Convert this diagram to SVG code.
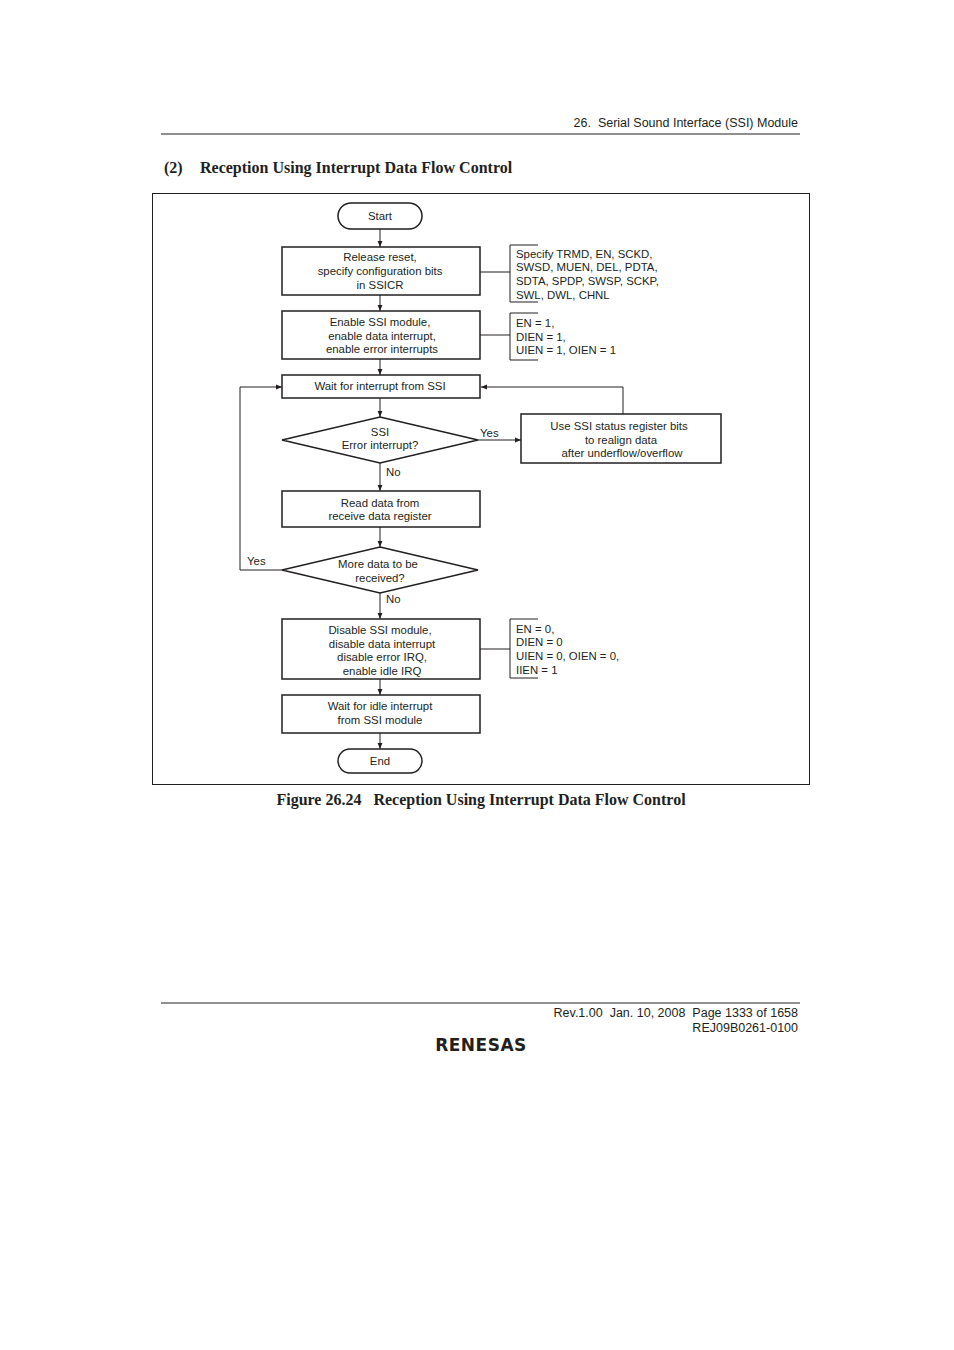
<svg xmlns="http://www.w3.org/2000/svg" width="954" height="1350" viewBox="0 0 954 1350">
<defs>
<marker id="ah" viewBox="0 0 10 10" refX="10" refY="5" markerWidth="6" markerHeight="6" orient="auto"><path d="M0,1 L10,5 L0,9 z" fill="#231f20"/></marker>
<style>
text{white-space:pre}
.n{fill:#fff;stroke:#231f20;stroke-width:1.5}
.t{font-family:"Liberation Sans",Arial,sans-serif;font-size:11.4px;fill:#231f20}
.c{text-anchor:middle}
.l{fill:none;stroke:#231f20;stroke-width:1}
.s{font-family:"Liberation Serif","Times New Roman",serif;font-weight:bold;font-size:16px;fill:#231f20}
.h{font-family:"Liberation Sans",Arial,sans-serif;font-size:12.5px;fill:#231f20}
</style>
</defs>
<rect width="954" height="1350" fill="#fff"/>
<line x1="161" y1="134" x2="800" y2="134" stroke="#231f20"/>
<text class="h" x="798" y="127" text-anchor="end" xml:space="preserve">26.  Serial Sound Interface (SSI) Module</text>
<text class="s" x="164" y="173">(2)</text>
<text class="s" x="200" y="173">Reception Using Interrupt Data Flow Control</text>
<rect x="152.5" y="193.5" width="657" height="591" fill="none" stroke="#231f20"/>
<g id="connectors">
<line class="l" x1="380" y1="229" x2="380" y2="247" marker-end="url(#ah)"/>
<line class="l" x1="380" y1="295" x2="380" y2="311" marker-end="url(#ah)"/>
<line class="l" x1="380" y1="359" x2="380" y2="375" marker-end="url(#ah)"/>
<line class="l" x1="380" y1="398" x2="380" y2="417" marker-end="url(#ah)"/>
<line class="l" x1="478" y1="440" x2="521" y2="440" marker-end="url(#ah)"/>
<polyline class="l" points="623,414 623,387 481,387" marker-end="url(#ah)"/>
<line class="l" x1="380" y1="463" x2="380" y2="491" marker-end="url(#ah)"/>
<line class="l" x1="380" y1="527" x2="380" y2="547" marker-end="url(#ah)"/>
<polyline class="l" points="282,570 240,570 240,387 282,387" marker-end="url(#ah)"/>
<line class="l" x1="380" y1="593" x2="380" y2="619" marker-end="url(#ah)"/>
<line class="l" x1="380" y1="679" x2="380" y2="695" marker-end="url(#ah)"/>
<line class="l" x1="380" y1="733" x2="380" y2="749" marker-end="url(#ah)"/>
<line class="l" x1="480" y1="272" x2="510" y2="272"/>
<polyline class="l" points="538,245 510,245 510,302 538,302"/>
<line class="l" x1="480" y1="335" x2="510" y2="335"/>
<polyline class="l" points="538,313 510,313 510,360 538,360"/>
<line class="l" x1="480" y1="649" x2="510" y2="649"/>
<polyline class="l" points="538,619 510,619 510,678 538,678"/>
<text class="t" x="480" y="437">Yes</text>
<text class="t" x="386" y="476">No</text>
<text class="t" x="247" y="565">Yes</text>
<text class="t" x="386" y="603">No</text>
</g>
<g id="start"><rect class="n" x="338" y="203" width="84" height="26" rx="13"/><text class="t c" x="380" y="220">Start</text></g>
<g id="release"><rect class="n" x="282" y="247" width="198" height="48"/><text class="t c" x="380" y="261">Release reset,</text><text class="t c" x="380" y="275">specify configuration bits</text><text class="t c" x="380" y="289">in SSICR</text></g>
<g id="note1"><text class="t" x="516" y="258">Specify TRMD, EN, SCKD,</text><text class="t" x="516" y="271">SWSD, MUEN, DEL, PDTA,</text><text class="t" x="516" y="285">SDTA, SPDP, SWSP, SCKP,</text><text class="t" x="516" y="299">SWL, DWL, CHNL</text></g>
<g id="enable"><rect class="n" x="282" y="311" width="198" height="48"/><text class="t c" x="380" y="326">Enable SSI module,</text><text class="t c" x="382" y="340">enable data interrupt,</text><text class="t c" x="382" y="353">enable error interrupts</text></g>
<g id="note2"><text class="t" x="516" y="327">EN = 1,</text><text class="t" x="516" y="341">DIEN = 1,</text><text class="t" x="516" y="354">UIEN = 1, OIEN = 1</text></g>
<g id="wait"><rect class="n" x="282" y="375" width="198" height="23"/><text class="t c" x="380" y="390">Wait for interrupt from SSI</text></g>
<g id="d1"><polygon class="n" points="380,417 478,440 380,463 282,440"/><text class="t c" x="380" y="436">SSI</text><text class="t c" x="380" y="449">Error interrupt?</text></g>
<g id="realign"><rect class="n" x="521" y="414" width="200" height="49"/><text class="t c" x="619" y="430">Use SSI status register bits</text><text class="t c" x="621" y="444">to realign data</text><text class="t c" x="622" y="457">after underflow/overflow</text></g>
<g id="read"><rect class="n" x="282" y="491" width="198" height="36"/><text class="t c" x="380" y="507">Read data from</text><text class="t c" x="380" y="520">receive data register</text></g>
<g id="d2"><polygon class="n" points="380,547 478,570 380,593 282,570"/><text class="t c" x="378" y="568">More data to be</text><text class="t c" x="380" y="582">received?</text></g>
<g id="disable"><rect class="n" x="282" y="619" width="198" height="60"/><text class="t c" x="380" y="634">Disable SSI module,</text><text class="t c" x="382" y="648">disable data interrupt</text><text class="t c" x="382" y="661">disable error IRQ,</text><text class="t c" x="382" y="675">enable idle IRQ</text></g>
<g id="note3"><text class="t" x="516" y="633">EN = 0,</text><text class="t" x="516" y="646">DIEN = 0</text><text class="t" x="516" y="660">UIEN = 0, OIEN = 0,</text><text class="t" x="516" y="674">IIEN = 1</text></g>
<g id="waitidle"><rect class="n" x="282" y="695" width="198" height="38"/><text class="t c" x="380" y="710">Wait for idle interrupt</text><text class="t c" x="380" y="724">from SSI module</text></g>
<g id="end"><rect class="n" x="338" y="749" width="84" height="24" rx="12"/><text class="t c" x="380" y="765">End</text></g>
<text class="s" x="481" y="805" text-anchor="middle" xml:space="preserve">Figure 26.24   Reception Using Interrupt Data Flow Control</text>
<line x1="161" y1="1003" x2="800" y2="1003" stroke="#231f20"/>
<text class="h" x="798" y="1017" text-anchor="end" xml:space="preserve">Rev.1.00  Jan. 10, 2008  Page 1333 of 1658</text>
<text class="h" x="798" y="1032" text-anchor="end">REJ09B0261-0100</text>
<text x="481" y="1051" text-anchor="middle" font-family="'DejaVu Sans',sans-serif" font-size="17" font-weight="bold" fill="#231f20" letter-spacing="0.5">RENESAS</text>
</svg>
